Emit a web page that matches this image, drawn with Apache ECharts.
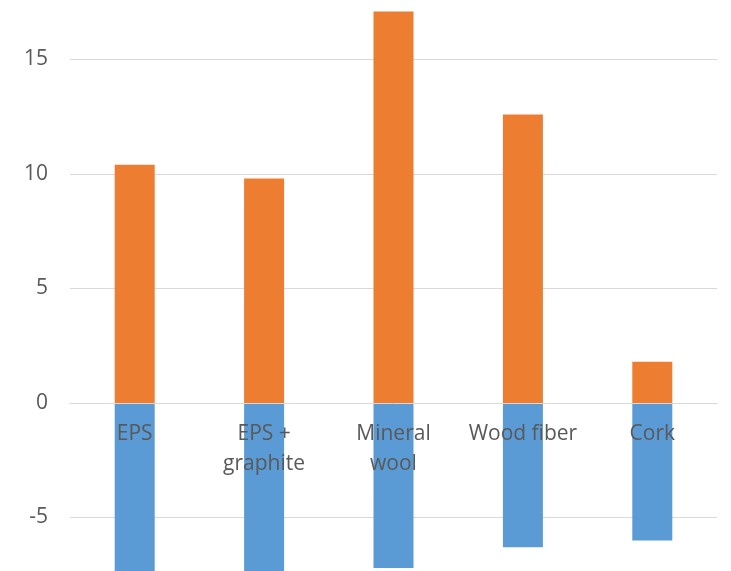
<!DOCTYPE html>
<html>
<head>
<meta charset="utf-8">
<style>
  html, body { margin: 0; padding: 0; background: #ffffff; }
  #chart { width: 731px; height: 571px; }
</style>
<script src="https://cdn.jsdelivr.net/npm/echarts@6/dist/echarts.min.js"></script>
</head>
<body>
<div id="chart"></div>
<script>
// Insulation materials and their positive / negative contributions
const categories = ['EPS', 'EPS +\ngraphite', 'Mineral\nwool', 'Wood fiber', 'Cork'];
const positiveValues = [10.4, 9.8, 17.1, 12.6, 1.8];
const negativeValues = [-8.5, -8.3, -7.2, -6.3, -6.0];
const yTicks = { min: -10, max: 20, interval: 5 };

const WIDTH = 731, HEIGHT = 571;
const GRID_TOP = -55, GRID_BOTTOM = -61;
// pixel distance from the grid's bottom edge up to the value-0 line
const plotHeight = HEIGHT - GRID_TOP - GRID_BOTTOM;
const zeroFromBottom = plotHeight * (0 - yTicks.min) / (yTicks.max - yTicks.min);

const chart = echarts.init(document.getElementById('chart'), null, { renderer: 'canvas' });

const labelFont = '"Open Sans", "Liberation Sans", sans-serif';

chart.setOption({
  animation: false,
  backgroundColor: '#ffffff',
  grid: {
    left: 70, right: 14, top: GRID_TOP, bottom: GRID_BOTTOM,
    containLabel: false,
    outerBoundsMode: 'none'
  },
  xAxis: {
    type: 'category',
    data: categories,
    z: 10,
    offset: -zeroFromBottom,
    axisLine: { onZero: false, lineStyle: { color: '#d9d9d9', width: 1 } },
    axisTick: { show: false },
    axisLabel: {
      color: '#595959',
      fontFamily: labelFont,
      fontSize: 21,
      lineHeight: 30,
      margin: 16,
      interval: 0
    },
    splitLine: { show: false }
  },
  yAxis: {
    type: 'value',
    min: yTicks.min,
    max: yTicks.max,
    interval: yTicks.interval,
    axisLine: { show: false },
    axisTick: { show: false },
    axisLabel: {
      color: '#595959',
      fontFamily: labelFont,
      fontSize: 21,
      margin: 22
    },
    splitLine: { lineStyle: { color: '#d9d9d9', width: 1 } }
  },
  series: [
    {
      name: 'Positive',
      type: 'bar',
      stack: 'total',
      barWidth: 40,
      data: positiveValues,
      itemStyle: { color: '#ED7D31' }
    },
    {
      name: 'Negative',
      type: 'bar',
      stack: 'total',
      barWidth: 40,
      data: negativeValues,
      itemStyle: { color: '#5B9BD5' }
    }
  ]
});
</script>
</body>
</html>
